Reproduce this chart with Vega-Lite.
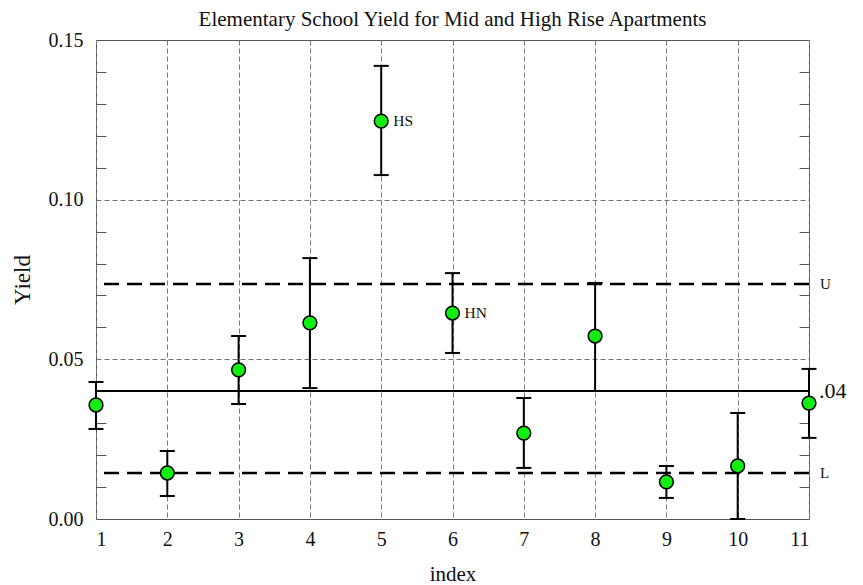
{
  "$schema": "https://vega.github.io/schema/vega-lite/v6.json",
  "autosize": "none",
  "width": 713,
  "height": 479,
  "padding": {"left": 96, "top": 40, "right": 54, "bottom": 66},
  "background": "white",
  "title": {"text": "Elementary School Yield for Mid and High Rise Apartments", "font": "Liberation Serif", "fontSize": 21, "fontWeight": "normal", "color": "#111", "offset": 0, "anchor": "middle"},
  "config": {
    "view": {"stroke": "#555", "strokeWidth": 1},
    "axis": {"labelFont": "Liberation Serif", "titleFont": "Liberation Serif", "labelColor": "#111", "titleColor": "#111", "domain": false, "titleFontWeight": "normal"}
  },
  "datasets": {
    "pts": [
      {"idx": 1, "y": 0.0357, "lo": 0.0282, "hi": 0.0429, "label": ""},
      {"idx": 2, "y": 0.0144, "lo": 0.0072, "hi": 0.0213, "label": ""},
      {"idx": 3, "y": 0.0467, "lo": 0.036, "hi": 0.0573, "label": ""},
      {"idx": 4, "y": 0.0614, "lo": 0.041, "hi": 0.0817, "label": ""},
      {"idx": 5, "y": 0.1246, "lo": 0.1077, "hi": 0.1419, "label": "HS"},
      {"idx": 6, "y": 0.0645, "lo": 0.052, "hi": 0.077, "label": "HN"},
      {"idx": 7, "y": 0.0269, "lo": 0.016, "hi": 0.0379, "label": ""},
      {"idx": 8, "y": 0.0573, "lo": 0.0401, "hi": 0.0739, "label": ""},
      {"idx": 9, "y": 0.0116, "lo": 0.0066, "hi": 0.0166, "label": ""},
      {"idx": 10, "y": 0.0166, "lo": 0.0, "hi": 0.0332, "label": ""},
      {"idx": 11, "y": 0.0363, "lo": 0.0254, "hi": 0.047, "label": ""}
    ],
    "refs": [
      {"name": "U", "value": 0.0736},
      {"name": ".04", "value": 0.0401},
      {"name": "L", "value": 0.0144}
    ]
  },
  "layer": [
    {
      "data": {"name": "pts"},
      "mark": {"type": "rule", "opacity": 0},
      "encoding": {
        "x": {"field": "idx", "type": "quantitative", "scale": {"domain": [1, 11], "nice": false, "zero": false},
          "axis": {"values": [1,2,3,4,5,6,7,8,9,10,11], "format": "d", "title": "index", "titleFontSize": 21, "titlePadding": 14, "labelFontSize": 20, "labelPadding": 10, "ticks": false, "grid": true, "gridDash": [5, 3], "gridColor": "#777", "gridWidth": 1}},
        "y": {"field": "y", "type": "quantitative", "scale": {"domain": [0, 0.15], "nice": false, "zero": false},
          "axis": {"values": [0, 0.05, 0.1, 0.15], "format": ".2f", "title": "Yield", "titleFontSize": 23, "titlePadding": 14, "labelFontSize": 20, "labelPadding": 13, "ticks": false, "grid": false}}
      }
    },
    {
      "data": {"name": "pts"},
      "mark": {"type": "rule", "opacity": 0},
      "encoding": {
        "y": {"field": "y", "type": "quantitative",
          "axis": {"orient": "left", "values": [0.05, 0.1], "labels": false, "ticks": false, "title": null, "grid": true, "gridDash": [5, 3], "gridColor": "#777", "gridWidth": 1}}
      }
    },
    {
      "data": {"name": "pts"},
      "mark": {"type": "rule", "opacity": 0},
      "encoding": {
        "y": {"field": "y", "type": "quantitative",
          "axis": {"orient": "left", "values": [0.01,0.02,0.03,0.04,0.06,0.07,0.08,0.09,0.11,0.12,0.13,0.14], "labels": false, "ticks": true, "tickSize": -10, "tickColor": "#555", "title": null, "grid": false}}
      }
    },
    {
      "data": {"name": "pts"},
      "mark": {"type": "rule", "opacity": 0},
      "encoding": {
        "y": {"field": "y", "type": "quantitative",
          "axis": {"orient": "right", "values": [0.01,0.02,0.03,0.04,0.06,0.07,0.08,0.09,0.11,0.12,0.13,0.14], "labels": false, "ticks": true, "tickSize": -10, "tickColor": "#555", "title": null, "grid": false}}
      }
    },
    {
      "data": {"name": "refs"},
      "transform": [{"filter": "datum.name != '.04'"}],
      "mark": {"type": "rule", "color": "black", "strokeWidth": 2.5, "strokeDash": [15, 8]},
      "encoding": {"y": {"field": "value", "type": "quantitative", "axis": null}}
    },
    {
      "data": {"name": "refs"},
      "transform": [{"filter": "datum.name == '.04'"}],
      "mark": {"type": "rule", "color": "black", "strokeWidth": 2},
      "encoding": {"y": {"field": "value", "type": "quantitative", "axis": null}}
    },
    {
      "data": {"name": "refs"},
      "transform": [{"filter": "datum.name != '.04'"}],
      "mark": {"type": "text", "align": "left", "baseline": "middle", "dx": 11, "font": "Liberation Serif", "fontSize": 15, "color": "#111"},
      "encoding": {"x": {"datum": 11, "type": "quantitative"}, "y": {"field": "value", "type": "quantitative", "axis": null}, "text": {"field": "name"}}
    },
    {
      "data": {"name": "refs"},
      "transform": [{"filter": "datum.name == '.04'"}],
      "mark": {"type": "text", "align": "left", "baseline": "middle", "dx": 10, "font": "Liberation Serif", "fontSize": 22, "color": "#111"},
      "encoding": {"x": {"datum": 11, "type": "quantitative"}, "y": {"field": "value", "type": "quantitative", "axis": null}, "text": {"field": "name"}}
    },
    {
      "data": {"name": "pts"},
      "mark": {"type": "rule", "color": "black", "strokeWidth": 2},
      "encoding": {"x": {"field": "idx", "type": "quantitative"}, "y": {"field": "lo", "type": "quantitative", "axis": null}, "y2": {"field": "hi"}}
    },
    {
      "data": {"name": "pts"},
      "mark": {"type": "tick", "orient": "horizontal", "color": "black", "thickness": 2, "size": 15, "opacity": 1},
      "encoding": {"x": {"field": "idx", "type": "quantitative"}, "y": {"field": "hi", "type": "quantitative", "axis": null}}
    },
    {
      "data": {"name": "pts"},
      "transform": [{"filter": "datum.idx != 8"}],
      "mark": {"type": "tick", "orient": "horizontal", "color": "black", "thickness": 2, "size": 15, "opacity": 1},
      "encoding": {"x": {"field": "idx", "type": "quantitative"}, "y": {"field": "lo", "type": "quantitative", "axis": null}}
    },
    {
      "data": {"name": "pts"},
      "mark": {"type": "point", "shape": "circle", "filled": true, "fill": "#11ee11", "stroke": "black", "strokeWidth": 1.5, "size": 190, "opacity": 1},
      "encoding": {"x": {"field": "idx", "type": "quantitative"}, "y": {"field": "y", "type": "quantitative", "axis": null}}
    },
    {
      "data": {"name": "pts"},
      "transform": [{"filter": "datum.label != ''"}],
      "mark": {"type": "text", "align": "left", "baseline": "middle", "dx": 12, "font": "Liberation Serif", "fontSize": 15.5, "color": "#111"},
      "encoding": {"x": {"field": "idx", "type": "quantitative"}, "y": {"field": "y", "type": "quantitative", "axis": null}, "text": {"field": "label"}}
    }
  ]
}
